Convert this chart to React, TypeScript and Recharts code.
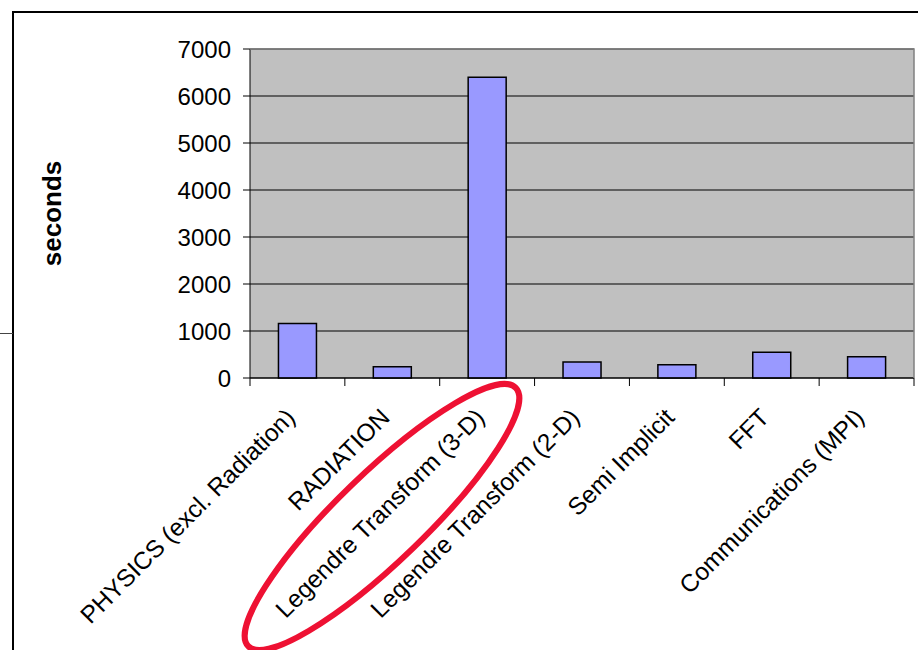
import { BarChart, Bar, XAxis, YAxis, CartesianGrid } from 'recharts'

// values
const categories = [
  'PHYSICS (excl. Radiation)',
  'RADIATION',
  'Legendre Transform (3-D)',
  'Legendre Transform (2-D)',
  'Semi Implicit',
  'FFT',
  'Communications (MPI)',
]
const seconds = [1160, 240, 6400, 340, 280, 550, 450]
const yTicks = [0, 1000, 2000, 3000, 4000, 5000, 6000, 7000]

const data = categories.map((name, i) => ({ name, seconds: seconds[i] }))

const FONT = "'Liberation Sans', Arial, sans-serif"

function CategoryTick(props: any) {
  const { x, y, payload, index } = props
  const half = payload.offset ?? 47.4
  const axisY = y - 43
  const tx = x - 1
  const ty = y - 2
  return (
    <g>
      <line x1={x - half} x2={x - half} y1={axisY} y2={axisY + 8} stroke="#000" />
      {index === categories.length - 1 && (
        <line x1={x + half} x2={x + half} y1={axisY} y2={axisY + 8} stroke="#000" />
      )}
      <text
        x={tx}
        y={ty}
        transform={`rotate(-45, ${tx}, ${ty})`}
        textAnchor="end"
        fontSize={24.5}
        fontFamily={FONT}
        fill="#000"
      >
        {payload.value}
      </text>
    </g>
  )
}

function SecondsLabel(props: any) {
  const vb = props.viewBox
  const cy = vb.y + vb.height / 2
  return (
    <text
      x={52}
      y={cy}
      transform={`rotate(-90, 52, ${cy})`}
      textAnchor="middle"
      dominantBaseline="central"
      fontSize={26}
      fontWeight="bold"
      fontFamily={FONT}
      fill="#000"
    >
      seconds
    </text>
  )
}

export default function App() {
  return (
    <div style={{ position: 'absolute', left: 0, top: 0, width: 918, height: 650, background: '#fff', overflow: 'hidden' }}>
      <BarChart width={918} height={650} data={data} margin={{ top: 49, right: 4, left: 0, bottom: 0 }} barCategoryGap="30%">
        <CartesianGrid vertical={false} stroke="#000" fill="#c0c0c0" fillOpacity={1} />
        <XAxis
          dataKey="name"
          height={272}
          interval={0}
          tickLine={false}
          tickSize={8}
          tickMargin={35}
          axisLine={{ stroke: '#000' }}
          tick={<CategoryTick />}
        />
        <YAxis
          width={250}
          domain={[0, 7000]}
          ticks={yTicks}
          interval={0}
          tickSize={7}
          tickMargin={12}
          axisLine={{ stroke: '#000' }}
          tickLine={{ stroke: '#000' }}
          tick={{ fill: '#000', fontSize: 24, fontFamily: FONT }}
          label={{ content: (p: any) => <SecondsLabel {...p} /> }}
        />
        <Bar dataKey="seconds" fill="#9999ff" stroke="#000" strokeWidth={1.5} isAnimationActive={false} />
      </BarChart>
      <svg width={918} height={650} style={{ position: 'absolute', left: 0, top: 0, pointerEvents: 'none' }}>
        {/* plot frame top/right in gray */}
        <polyline points="250,49 914,49 914,378" fill="none" stroke="#808080" strokeWidth={1.5} />
        {/* outer slide frame */}
        <polyline points="918,12 13,12 13,650" fill="none" stroke="#000" strokeWidth={2} />
        <line x1={0} x2={13} y1={333.5} y2={333.5} stroke="#444" strokeWidth={1} />
        {/* hand-drawn highlight */}
        <ellipse cx={382} cy={517} rx={186} ry={44} fill="none" stroke="#ee1133" strokeWidth={6} transform="rotate(-44, 382, 517)" />
      </svg>
    </div>
  )
}
